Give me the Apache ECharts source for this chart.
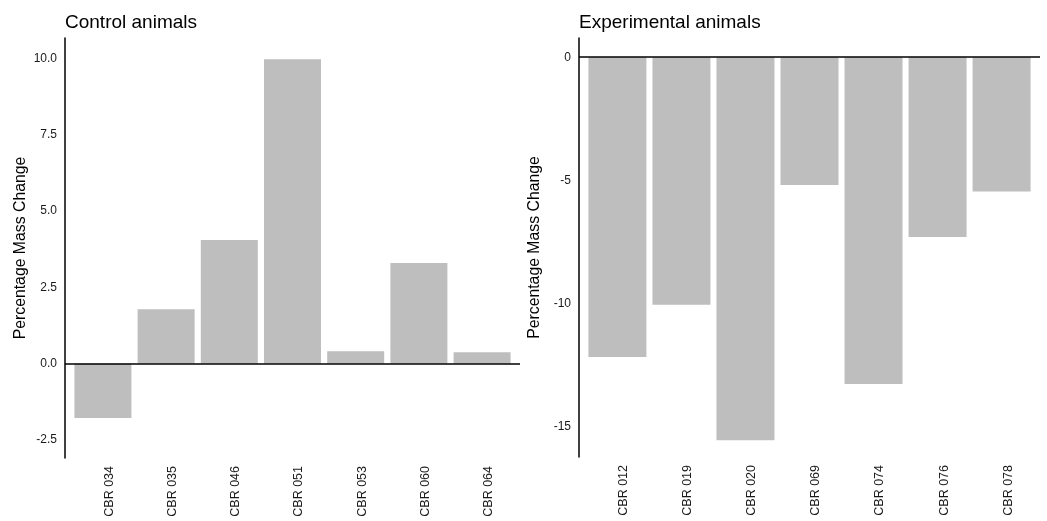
<!DOCTYPE html>
<html>
<head>
<meta charset="utf-8">
<script src="https://cdn.jsdelivr.net/npm/echarts@6/dist/echarts.min.js"></script>
<style>
  html, body { margin: 0; padding: 0; background: #fff; }
  #chart { width: 1047px; height: 521px; }
</style>
</head>
<body>
<div id="chart"></div>
<script>
// control animals
var controlNames = ['CBR 034', 'CBR 035', 'CBR 046', 'CBR 051', 'CBR 053', 'CBR 060', 'CBR 064'];
var controlValues = [-1.79, 1.78, 4.05, 9.98, 0.40, 3.30, 0.37];
var controlTicks = [-2.5, 0, 2.5, 5, 7.5, 10];

// experimental animals
var expNames = ['CBR 012', 'CBR 019', 'CBR 020', 'CBR 069', 'CBR 074', 'CBR 076', 'CBR 078'];
var expValues = [-12.19, -10.06, -15.57, -5.19, -13.28, -7.31, -5.46];
var expTicks = [-15, -10, -5, 0];

var FONT = 'Liberation Sans, Arial, sans-serif';
var BAR = '#bebebe';

var positions = controlNames.map((n, i) => i + 1);

function xAxisFor(idx, names) {
	return {
		gridIndex: idx,
		type: 'value',
		min: 0.4,
		max: 7.6,
		axisLine: { show: false },
		axisTick: { show: false },
		splitLine: { show: false },
		axisLabel: {
			customValues: positions,
			rotate: 90,
			margin: 8,
			verticalAlign: 'top', // labels sit just right of the bar centre
			color: '#1a1a1a',
			fontSize: 12.5,
			fontFamily: FONT,
			formatter: v => names[Math.round(v) - 1] || ''
		}
	};
}

function yAxisFor(idx, min, max, ticks, fmt) {
	return {
		gridIndex: idx,
		type: 'value',
		min: min,
		max: max,
		name: 'Percentage Mass Change',
		nameLocation: 'middle',
		nameRotate: 90,
		nameGap: 36,
		nameTextStyle: { fontSize: 15.8, color: '#000', fontFamily: FONT },
		axisLine: { show: true, onZero: false, lineStyle: { color: '#000', width: 1.5 } },
		axisTick: { show: false },
		splitLine: { show: false },
		axisLabel: {
			customValues: ticks,
			margin: 8,
			color: '#1a1a1a',
			fontSize: 12,
			fontFamily: FONT,
			formatter: fmt
		}
	};
}

function barSeries(idx, values, width) {
	return {
		type: 'bar',
		xAxisIndex: idx,
		yAxisIndex: idx,
		barWidth: width,
		itemStyle: { color: BAR },
		data: values.map((v, i) => [positions[i], v]),
		markLine: {
			silent: true,
			symbol: 'none',
			label: { show: false },
			lineStyle: { color: '#000', width: 1.5, type: 'solid' },
			data: [{ yAxis: 0 }]
		}
	};
}

const chart = echarts.init(document.getElementById('chart'), null, { renderer: 'canvas' });
chart.setOption({
	animation: false,
	backgroundColor: '#fff',
	title: [
		{ text: 'Control animals', left: 60, top: 8, textStyle: { fontSize: 19, fontWeight: 'normal', color: '#000', fontFamily: FONT } },
		{ text: 'Experimental animals', left: 574, top: 8, textStyle: { fontSize: 19, fontWeight: 'normal', color: '#000', fontFamily: FONT } }
	],
	grid: [
		{ left: 65, right: 527, top: 38, bottom: 63 },
		{ left: 579, right: 7, top: 38, bottom: 64 }
	],
	xAxis: [xAxisFor(0, controlNames), xAxisFor(1, expNames)],
	yAxis: [
		yAxisFor(0, -3.1, 10.68, controlTicks, v => v.toFixed(1)),
		yAxisFor(1, -16.25, 0.78, expTicks, v => String(v))
	],
	series: [barSeries(0, controlValues, 57), barSeries(1, expValues, 58)]
});
</script>
</body>
</html>
